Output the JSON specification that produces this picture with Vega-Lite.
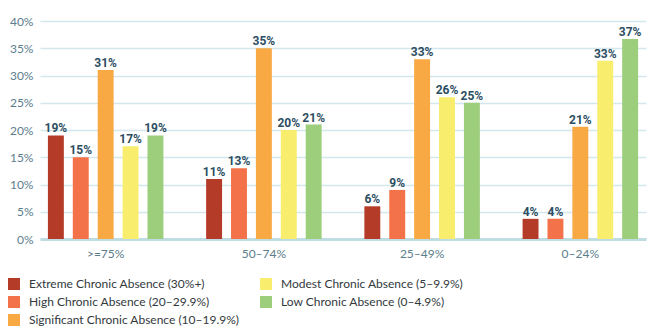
{
  "$schema": "https://vega.github.io/schema/vega-lite/v6.json",
  "autosize": {"type": "none"},
  "width": 606,
  "height": 218,
  "padding": {"left": 40, "top": 21, "right": 1, "bottom": 89},
  "background": "white",
  "config": {
    "view": {"stroke": null},
    "font": "Roboto"
  },
  "data": {
    "values": [
      {"group": ">=75%", "category": "Extreme Chronic Absence (30%+)", "value": 0.19},
      {"group": ">=75%", "category": "High Chronic Absence (20–29.9%)", "value": 0.15},
      {"group": ">=75%", "category": "Significant Chronic Absence (10–19.9%)", "value": 0.31},
      {"group": ">=75%", "category": "Modest Chronic Absence (5–9.9%)", "value": 0.17},
      {"group": ">=75%", "category": "Low Chronic Absence (0–4.9%)", "value": 0.19},
      {"group": "50–74%", "category": "Extreme Chronic Absence (30%+)", "value": 0.11},
      {"group": "50–74%", "category": "High Chronic Absence (20–29.9%)", "value": 0.13},
      {"group": "50–74%", "category": "Significant Chronic Absence (10–19.9%)", "value": 0.35},
      {"group": "50–74%", "category": "Modest Chronic Absence (5–9.9%)", "value": 0.20},
      {"group": "50–74%", "category": "Low Chronic Absence (0–4.9%)", "value": 0.21},
      {"group": "25–49%", "category": "Extreme Chronic Absence (30%+)", "value": 0.06},
      {"group": "25–49%", "category": "High Chronic Absence (20–29.9%)", "value": 0.09},
      {"group": "25–49%", "category": "Significant Chronic Absence (10–19.9%)", "value": 0.33},
      {"group": "25–49%", "category": "Modest Chronic Absence (5–9.9%)", "value": 0.26},
      {"group": "25–49%", "category": "Low Chronic Absence (0–4.9%)", "value": 0.25},
      {"group": "0–24%", "category": "Extreme Chronic Absence (30%+)", "value": 0.037},
      {"group": "0–24%", "category": "High Chronic Absence (20–29.9%)", "value": 0.037},
      {"group": "0–24%", "category": "Significant Chronic Absence (10–19.9%)", "value": 0.206},
      {"group": "0–24%", "category": "Modest Chronic Absence (5–9.9%)", "value": 0.327},
      {"group": "0–24%", "category": "Low Chronic Absence (0–4.9%)", "value": 0.367}
    ]
  },
  "encoding": {
    "x": {
      "field": "group", "type": "nominal",
      "sort": [">=75%", "50–74%", "25–49%", "0–24%"],
      "scale": {"paddingInner": 0.27, "paddingOuter": 0.05},
      "axis": {
        "title": null, "labelAngle": 0, "ticks": false,
        "domainColor": "#bfdce3", "domainWidth": 3,
        "labelColor": "#5b7d8c", "labelFontSize": 12, "labelPadding": 9,
        "labelFont": "Lato"
      }
    },
    "xOffset": {
      "field": "category", "type": "nominal",
      "sort": [
        "Extreme Chronic Absence (30%+)",
        "High Chronic Absence (20–29.9%)",
        "Significant Chronic Absence (10–19.9%)",
        "Modest Chronic Absence (5–9.9%)",
        "Low Chronic Absence (0–4.9%)"
      ],
      "scale": {"paddingInner": 0.36, "paddingOuter": 0}
    },
    "y": {
      "field": "value", "type": "quantitative",
      "scale": {"domain": [0, 0.4], "nice": false},
      "axis": {
        "title": null, "values": [0, 0.05, 0.1, 0.15, 0.2, 0.25, 0.3, 0.35, 0.4],
        "format": ".0%",
        "domain": false, "ticks": false,
        "gridColor": "#d3e7ed", "gridWidth": 1.5,
        "labelColor": "#5b7d8c", "labelFontSize": 12, "labelPadding": 7,
        "labelFont": "Lato"
      }
    }
  },
  "layer": [
    {
      "mark": {"type": "bar"},
      "encoding": {
        "color": {
          "field": "category", "type": "nominal",
          "scale": {
            "domain": [
              "Extreme Chronic Absence (30%+)",
              "High Chronic Absence (20–29.9%)",
              "Significant Chronic Absence (10–19.9%)",
              "Modest Chronic Absence (5–9.9%)",
              "Low Chronic Absence (0–4.9%)"
            ],
            "range": ["#b53b29", "#f47249", "#f9a944", "#f8ed6d", "#9dce7c"]
          },
          "legend": {
            "title": null, "orient": "none", "legendX": -32, "legendY": 257,
            "columns": 2, "columnPadding": 20, "rowPadding": 6,
            "symbolType": "square", "symbolSize": 144, "symbolStrokeWidth": 0,
            "labelFontSize": 12, "labelColor": "#33393d", "labelFont": "Lato",
            "labelOffset": 9, "padding": 0, "labelLimit": 400
          }
        }
      }
    },
    {
      "mark": {"type": "text", "dy": -7, "fontWeight": "bold", "fontSize": 12, "color": "#2c4e62", "font": "Roboto"},
      "encoding": {
        "text": {"field": "value", "type": "quantitative", "format": ".0%"},
        "detail": {"field": "category"}
      }
    }
  ]
}
